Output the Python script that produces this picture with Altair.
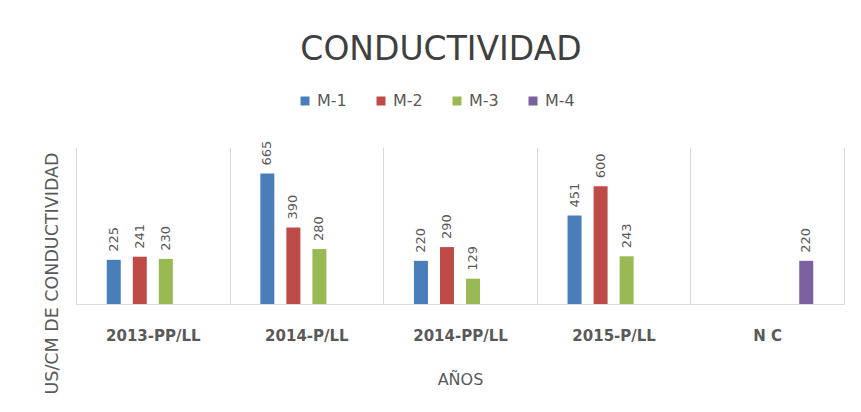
import altair as alt
import pandas as pd

categories = ["2013-PP/LL", "2014-P/LL", "2014-PP/LL", "2015-P/LL", "N C"]
series = ["M-1", "M-2", "M-3", "M-4"]
m1 = [225, 665, 220, 451, None]
m2 = [241, 390, 290, 600, None]
m3 = [230, 280, 129, 243, None]
m4 = [None, None, None, None, 220]
colors = ["#4A7EBB", "#BE4B48", "#98B954", "#7D60A0"]

rows = []
for s, vals in zip(series, [m1, m2, m3, m4]):
    for c, v in zip(categories, vals):
        if v is not None:
            rows.append({"cat": c, "series": s, "value": v})
df = pd.DataFrame(rows)

gray = "#595959"
base = alt.Chart(df).encode(
    x=alt.X(
        "cat:N",
        sort=categories,
        scale=alt.Scale(domain=categories, paddingInner=0, paddingOuter=0),
        axis=alt.Axis(
            title="AÑOS",
            grid=True,
            tickBand="extent",
            ticks=False,
            domain=True,
            domainColor="#d9d9d9",
            gridColor="#d9d9d9",
            labelAngle=0,
            labelFont="DejaVu Sans",
            labelFontWeight="bold",
            labelFontSize=15,
            labelColor=gray,
            labelPadding=24,
            titleFont="DejaVu Sans",
            titleFontWeight="normal",
            titleFontSize=16,
            titleColor=gray,
            titlePadding=28,
        ),
    ),
    xOffset=alt.XOffset(
        "series:N",
        scale=alt.Scale(domain=series, paddingInner=0.1, paddingOuter=1),
    ),
    y=alt.Y(
        "value:Q",
        scale=alt.Scale(domain=[0, 800]),
        axis=alt.Axis(
            labels=False,
            ticks=False,
            domain=False,
            grid=False,
            title="US/CM DE CONDUCTIVIDAD",
            titleFont="DejaVu Sans",
            titleFontWeight="normal",
            titleFontSize=17.5,
            titleColor=gray,
            titleX=-15,
            titleY=126,
            titleAlign="center",
            titleBaseline="bottom",
        ),
    ),
)

bars = base.mark_bar(width=14).encode(
    color=alt.Color(
        "series:N",
        scale=alt.Scale(domain=series, range=colors),
        legend=alt.Legend(
            orient="none",
            legendX=221,
            legendY=-54,
            direction="horizontal",
            title=None,
            symbolType="square",
            symbolSize=81,
            symbolStrokeWidth=0,
            labelFont="DejaVu Sans",
            labelFontSize=16,
            labelColor=gray,
            columnPadding=26,
            padding=0,
        ),
    )
)

labels = base.mark_text(
    angle=270, align="left", baseline="middle", dx=8,
    fontSize=13, color=gray, font="DejaVu Sans"
).encode(text="value:Q")

chart = (
    alt.layer(bars, labels)
    .properties(
        width=768,
        height=157,
        autosize=alt.AutoSizeParams(type="none"),
        padding={"left": 68, "top": 139, "right": 9, "bottom": 100},
        title=alt.TitleParams(
            "CONDUCTIVIDAD",
            font="DejaVu Sans",
            fontSize=33,
            fontWeight="normal",
            color="#404040",
            anchor="middle",
            dx=-19,
            dy=-22,
        ),
    )
    .configure_view(stroke=None)
)

chart.save("out.html", embed_options={"renderer": "svg", "actions": False})
